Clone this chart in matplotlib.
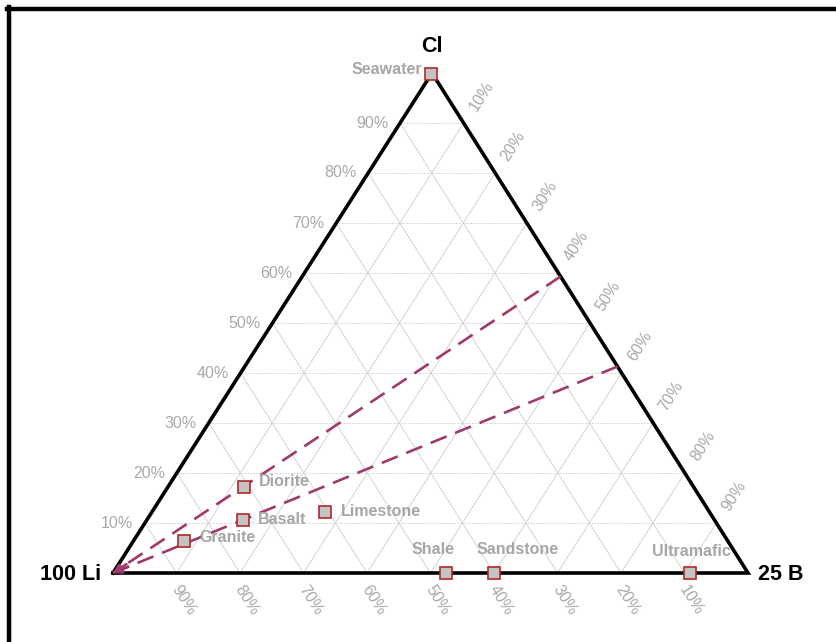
import numpy as np
import matplotlib
matplotlib.use("Agg")
import matplotlib.pyplot as plt
from matplotlib.lines import Line2D

plt.rcParams['font.family'] = ['Liberation Sans', 'DejaVu Sans']

# samples (fractions of 100 Li, 25 B, Cl)
names = ['Seawater', 'Diorite', 'Basalt', 'Granite', 'Limestone',
         'Shale', 'Sandstone', 'Ultramafic']
b_frac = [0.0, 0.12, 0.151, 0.08, 0.273, 0.524, 0.60, 0.909]
cl_frac = [0.998, 0.172, 0.106, 0.064, 0.122, 0.0, 0.0, 0.0]

# mixing lines from the Li corner to the B-Cl side
mix_cl = [0.593, 0.413]

ticks = [10, 20, 30, 40, 50, 60, 70, 80, 90]

# label offsets (pixels)
lab_off = {'Seawater': (-9, 5, 'right'), 'Diorite': (15, 6, 'left'),
           'Basalt': (15, 1, 'left'), 'Granite': (15, 3, 'left'),
           'Limestone': (16, 1, 'left'), 'Shale': (-13, 23, 'center'),
           'Sandstone': (24, 23, 'center'), 'Ultramafic': (1, 22, 'center')}

APEX = (432 - 113) / 635
H = 500 / 635


def tern(b, cl):
    b = np.asarray(b, float)
    cl = np.asarray(cl, float)
    return b + cl * APEX, cl * H


fig = plt.figure(figsize=(8.36, 6.42), dpi=100)
ax = fig.add_axes([113 / 836, 69 / 642, 635 / 836, 500 / 642])
ax.set_xlim(0, 1)
ax.set_ylim(0, H)
ax.axis('off')

# frame (top and left only visible)
fig.add_artist(Line2D([7 / 836, 1], [1 - 9 / 642] * 2, color='black', lw=3.2,
                      transform=fig.transFigure))
fig.add_artist(Line2D([9 / 836] * 2, [0, 1 - 7 / 642], color='black', lw=3.2,
                      transform=fig.transFigure))

gcol = '#d4d4d4'
for t in ticks:
    f = t / 100
    # constant Cl
    x, y = tern([0, 1 - f], [f, f])
    ax.plot(x, y, color='#cccccc', lw=0.7, ls=(0, (1.5, 1.5)), zorder=1)
    # constant B
    x, y = tern([f, f], [0, 1 - f])
    ax.plot(x, y, color=gcol, lw=0.7, zorder=1)
    # constant Li
    x, y = tern([1 - f, 0], [0, 1 - f])
    ax.plot(x, y, color=gcol, lw=0.7, zorder=1)

# triangle
x, y = tern([0, 1, 0, 0], [0, 0, 1, 0])
ax.plot(x, y, color='black', lw=2.6, solid_joinstyle='miter', zorder=3,
        clip_on=False)

tcol = '#a9a9a9'
for t in ticks:
    f = t / 100
    # Cl labels on left side
    x, y = tern(0, f)
    ax.annotate(f'{t}%', (x, y), xytext=(-12, 0), textcoords='offset pixels',
                ha='right', va='center', fontsize=11.5, color=tcol)
    # B labels on right side
    x, y = tern(f, 1 - f)
    ax.annotate(f'{t}%', (x, y), xytext=(18, 27), textcoords='offset pixels',
                ha='center', va='center', fontsize=11.5, color=tcol,
                rotation=57.5)
    # Li labels on bottom
    x, y = tern(1 - f, 0)
    ax.annotate(f'{t}%', (x, y), xytext=(7, -27), textcoords='offset pixels',
                ha='center', va='center', fontsize=11.5, color=tcol,
                rotation=-57.7)

# mixing lines
lcol = '#a03a6c'
for c in mix_cl:
    x, y = tern([1 - c, 0], [c, 0])
    ax.plot(x, y, color=lcol, lw=1.9, dashes=(6.5, 3.5), zorder=4,
            clip_on=False)
    ax.annotate('', xy=(x[1], y[1]), xytext=(x[1] + (x[0] - x[1]) * 0.03,
                                            y[1] + (y[0] - y[1]) * 0.03),
                arrowprops=dict(arrowstyle='->', color=lcol, lw=1.9,
                                mutation_scale=12, shrinkA=0, shrinkB=0),
                zorder=4)

# samples
x, y = tern(b_frac, cl_frac)
ax.plot(x, y, ls='none', marker='s', markersize=8.5, markerfacecolor='#c3c3c3',
        markeredgecolor='#b02a2a', markeredgewidth=1.2, zorder=5, clip_on=False)
for n, xi, yi in zip(names, x, y):
    dx, dy, ha = lab_off[n]
    ax.annotate(n, (xi, yi), xytext=(dx, dy), textcoords='offset pixels',
                ha=ha, va='center', fontsize=11.5, fontweight='bold',
                color='#a6a6a6', zorder=6)

# corner labels
x, y = tern([0, 1, 0], [0, 0, 1])
ax.annotate('100 Li', (x[0], y[0]), xytext=(-12, -2), textcoords='offset pixels',
            ha='right', va='center', fontsize=15.5, fontweight='bold')
ax.annotate('25 B', (x[1], y[1]), xytext=(10, -1), textcoords='offset pixels',
            ha='left', va='center', fontsize=15.5, fontweight='bold')
ax.annotate('Cl', (x[2], y[2]), xytext=(0, 26), textcoords='offset pixels',
            ha='center', va='center', fontsize=15.5, fontweight='bold')

fig.savefig('out.png', dpi=100)
